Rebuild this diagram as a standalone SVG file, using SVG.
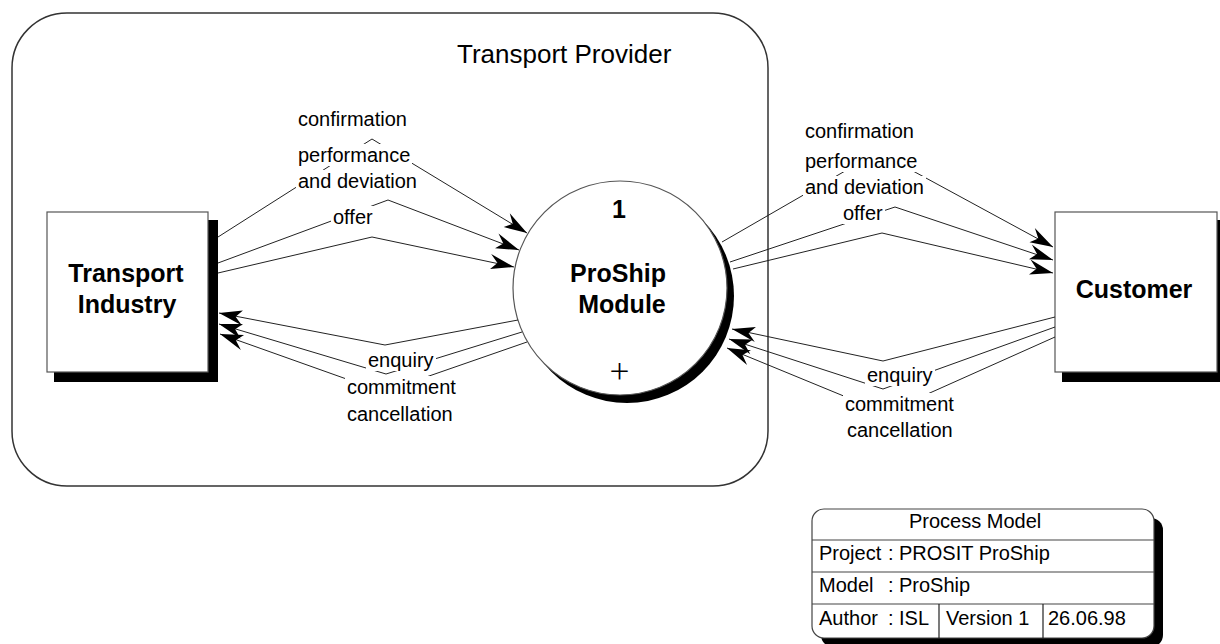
<svg xmlns="http://www.w3.org/2000/svg" width="1220" height="644" viewBox="0 0 1220 644">
<style>
.lbl{font-family:"Liberation Sans",Arial,sans-serif;font-size:20px;fill:#000}
.node{font-family:"Liberation Sans",Arial,sans-serif;font-size:25px;font-weight:bold;fill:#000}
.tbl{font-family:"Liberation Sans",Arial,sans-serif;font-size:20px;fill:#000}
.box{fill:#fff;stroke:#555;stroke-width:1.2}
.shadow{fill:#000}
.flow{fill:none;stroke:#222;stroke-width:1}
.mask{fill:#fff}
</style>
<defs>
<marker id="ah" markerUnits="userSpaceOnUse" markerWidth="28" markerHeight="20" viewBox="-27 -10 28 20" refX="0" refY="0" orient="auto">
<path d="M0,0 L-25,-8 L-17,-0.5 L-23,7 Z" fill="#000"/>
</marker>
</defs>
<rect width="1220" height="644" fill="#fff"/>

<g id="boundary">
<rect x="12" y="13" width="756" height="473" rx="55" ry="55" fill="none" stroke="#333" stroke-width="1.5"/>
<text class="lbl" x="457" y="63" style="font-size:26px">Transport Provider</text>
</g>

<g id="transport-industry">
<rect class="shadow" x="54" y="220" width="164" height="162"/>
<rect class="box" x="47" y="212" width="161" height="160"/>
<text class="node" x="126" y="282" text-anchor="middle">Transport</text>
<text class="node" x="127" y="313" text-anchor="middle">Industry</text>
</g>

<g id="customer">
<rect class="shadow" x="1062" y="220" width="164" height="162"/>
<rect class="box" x="1055" y="212" width="162" height="160"/>
<text class="node" x="1134" y="298" text-anchor="middle">Customer</text>
</g>

<g id="proship-module">
<circle class="shadow" cx="627" cy="296" r="107"/>
<circle class="box" cx="620" cy="288" r="107"/>
<text class="node" x="619" y="218" text-anchor="middle">1</text>
<text class="node" x="618" y="282" text-anchor="middle">ProShip</text>
<text class="node" x="622" y="313" text-anchor="middle">Module</text>
<text x="619.5" y="382" text-anchor="middle" style="font-family:Inter,'Liberation Sans',sans-serif;font-size:38px;font-weight:200;fill:#000">+</text>
</g>

<g id="connectors">
<polyline class="flow" points="218,237 372,139 527,233" marker-end="url(#ah)"/>
<polyline class="flow" points="218,263 388,200 519,250" marker-end="url(#ah)"/>
<polyline class="flow" points="218,273 372,237 514,267" marker-end="url(#ah)"/>
<polyline class="flow" points="518,320 385,345 219,313" marker-end="url(#ah)"/>
<polyline class="flow" points="522,332 386,374 219,324" marker-end="url(#ah)"/>
<polyline class="flow" points="527,342 383,392 220,334" marker-end="url(#ah)"/>
<polyline class="flow" points="722,242 878,152 1053,247" marker-end="url(#ah)"/>
<polyline class="flow" points="730,262 895,207 1053,260" marker-end="url(#ah)"/>
<polyline class="flow" points="733,269 882,233 1053,273" marker-end="url(#ah)"/>
<polyline class="flow" points="1055,317 883,361 732,329" marker-end="url(#ah)"/>
<polyline class="flow" points="1055,327 883,389 729,339" marker-end="url(#ah)"/>
<polyline class="flow" points="1055,337 885,413 727,348" marker-end="url(#ah)"/>
</g>

<g id="flow-labels">
<rect class="mask" x="296" y="108" width="113" height="22"/>
<rect class="mask" x="296" y="144" width="116" height="22"/>
<rect class="mask" x="296" y="170" width="123" height="22"/>
<rect class="mask" x="331" y="206" width="44" height="22"/>
<text class="lbl" x="298" y="126">confirmation</text>
<text class="lbl" x="298" y="162">performance</text>
<text class="lbl" x="298" y="188">and deviation</text>
<text class="lbl" x="333" y="224">offer</text>

<rect class="mask" x="803" y="120" width="113" height="22"/>
<rect class="mask" x="803" y="150" width="116" height="22"/>
<rect class="mask" x="803" y="176" width="123" height="22"/>
<rect class="mask" x="841" y="202" width="44" height="22"/>
<text class="lbl" x="805" y="138">confirmation</text>
<text class="lbl" x="805" y="168">performance</text>
<text class="lbl" x="805" y="194">and deviation</text>
<text class="lbl" x="843" y="220">offer</text>

<rect class="mask" x="366" y="349" width="70" height="22"/>
<rect class="mask" x="345" y="376" width="113" height="22"/>
<rect class="mask" x="345" y="403" width="110" height="22"/>
<text class="lbl" x="368" y="367">enquiry</text>
<text class="lbl" x="347" y="394">commitment</text>
<text class="lbl" x="347" y="421">cancellation</text>

<rect class="mask" x="865" y="364" width="70" height="22"/>
<rect class="mask" x="843" y="393" width="113" height="22"/>
<rect class="mask" x="845" y="419" width="110" height="22"/>
<text class="lbl" x="867" y="382">enquiry</text>
<text class="lbl" x="845" y="411">commitment</text>
<text class="lbl" x="847" y="437">cancellation</text>
</g>

<g id="process-model-table">
<rect class="shadow" x="821" y="518" width="342" height="129" rx="12" ry="12"/>
<rect x="812" y="509" width="342" height="129" rx="12" ry="12" fill="#fff" stroke="#444" stroke-width="1.2"/>
<line x1="812" y1="540" x2="1154" y2="540" stroke="#444" stroke-width="1.2"/>
<line x1="812" y1="572" x2="1154" y2="572" stroke="#444" stroke-width="1.2"/>
<line x1="812" y1="604" x2="1154" y2="604" stroke="#444" stroke-width="1.2"/>
<line x1="939" y1="604" x2="939" y2="638" stroke="#222" stroke-width="1.2"/>
<line x1="1043" y1="604" x2="1043" y2="638" stroke="#222" stroke-width="1.2"/>
<text class="tbl" x="909" y="528">Process Model</text>
<text class="tbl" x="819" y="560">Project</text>
<text class="tbl" x="888" y="560">:</text>
<text class="tbl" x="899" y="560">PROSIT ProShip</text>
<text class="tbl" x="819" y="592">Model</text>
<text class="tbl" x="888" y="592">:</text>
<text class="tbl" x="899" y="592">ProShip</text>
<text class="tbl" x="819" y="625">Author</text>
<text class="tbl" x="888" y="625">:</text>
<text class="tbl" x="899" y="625">ISL</text>
<text class="tbl" x="946" y="625">Version 1</text>
<text class="tbl" x="1048" y="625">26.06.98</text>
</g>
</svg>
